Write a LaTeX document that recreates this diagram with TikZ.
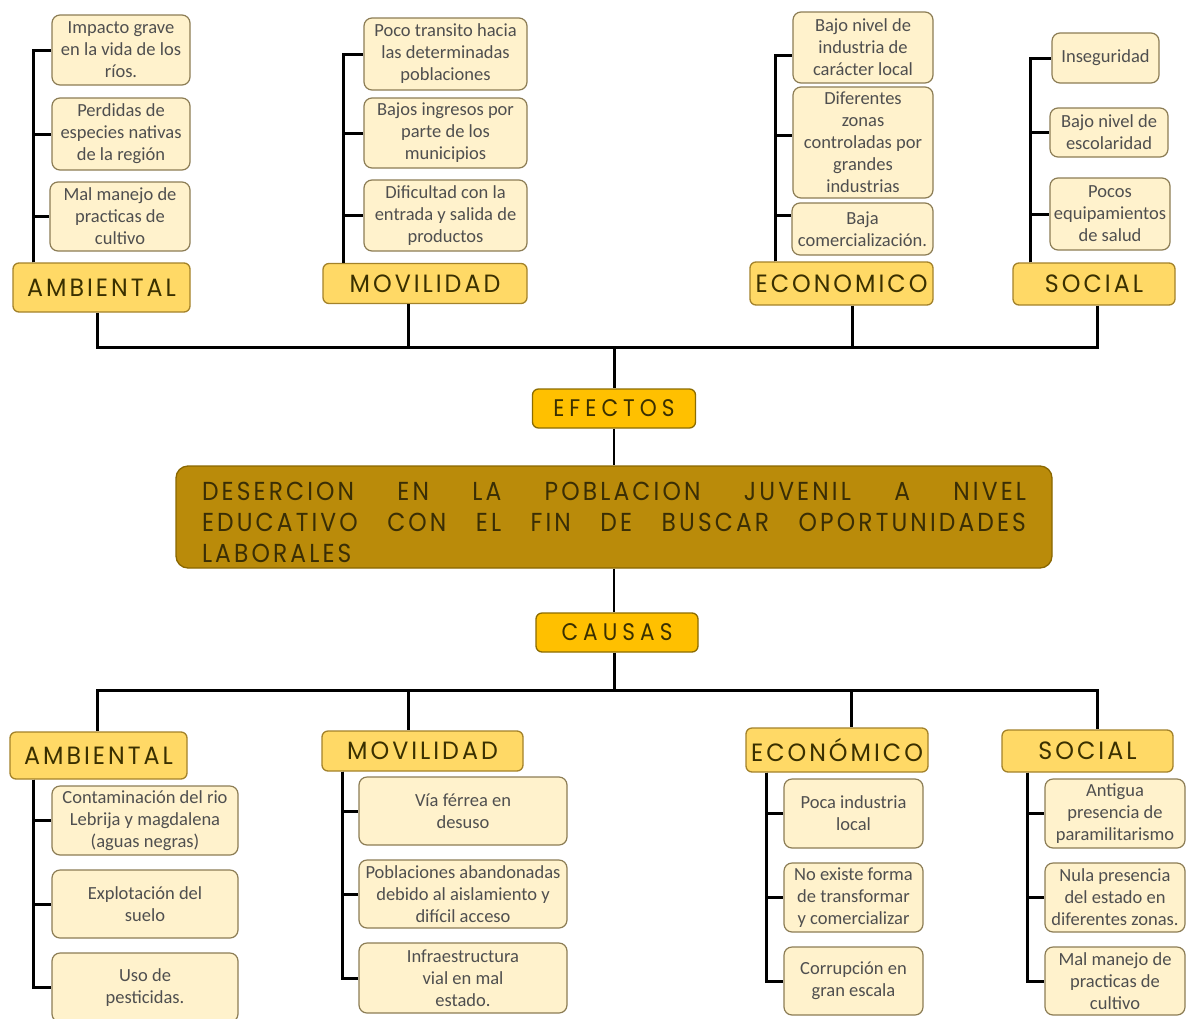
\documentclass[tikz,border=0pt]{standalone}
\usepackage{fontspec}
\setmainfont{Carlito}
\newfontfamily\hdrfont[LetterSpace=12,FakeStretch=0.95]{Poppins}
\newfontfamily\goldfont[LetterSpace=21,FakeStretch=0.9]{Poppins}
\newfontfamily\narfont[LetterSpace=12,FakeStretch=0.9]{Poppins}
\definecolor{itemfill}{HTML}{FFF2CC}
\definecolor{itemdraw}{HTML}{8C7D55}
\definecolor{itemtext}{HTML}{4F4F4F}
\definecolor{hdrfill}{HTML}{FFD966}
\definecolor{hdrdraw}{HTML}{A3822A}
\definecolor{hdrtext}{HTML}{3A3000}
\definecolor{goldfill}{HTML}{FFC000}
\definecolor{golddraw}{HTML}{8C6C00}
\definecolor{mainfill}{HTML}{BA8B0A}
\definecolor{maindraw}{HTML}{8A6700}
\definecolor{maintext}{HTML}{3A2E05}
\begin{document}
\begin{tikzpicture}[x=1pt,y=-1pt,
  item/.style={draw=itemdraw, fill=itemfill, line width=1.2pt, rounded corners=8pt, inner sep=0pt, align=center, text=itemtext, font=\fontsize{18.5}{22}\selectfont},
  hdr/.style={draw=hdrdraw, fill=hdrfill, line width=1.3pt, rounded corners=6pt, inner sep=0pt, text=hdrtext, font=\hdrfont\fontsize{25}{28}\selectfont},
  goldbox/.style={draw=golddraw, fill=goldfill, line width=1.3pt, rounded corners=6pt, inner sep=0pt, text=hdrtext, font=\goldfont\fontsize{24}{26}\selectfont},
  mainbox/.style={draw=maindraw, fill=mainfill, line width=1.3pt, rounded corners=12pt, inner sep=0pt},
  maintitle/.style={inner sep=0pt, text=maintext, align=left, font=\narfont\fontsize{26}{31}\selectfont},
  tree/.style={line width=3pt, draw=black}]
\useasboundingbox (0,0) rectangle (1186,1018);
\fill[white] (0,0) rectangle (1186,1018);

% ---------- top headers ----------
\node[hdr, minimum width=177, minimum height=49] (ambT) at (101.5,287.5) {AMBIENTAL};
\node[hdr, minimum width=204, minimum height=40] (movT) at (425,283.5) {MOVILIDAD};
\node[hdr, minimum width=183, minimum height=43] (ecoT) at (841.5,283.5) {ECONOMICO};
\node[hdr, minimum width=162, minimum height=42] (socT) at (1094,284) {SOCIAL};

% ---------- top items ----------
\node[item, minimum width=138, minimum height=70] (a1) at (121,50) {Impacto grave\\en la vida de los\\ríos.};
\node[item, minimum width=138, minimum height=72] (a2) at (121,134) {Perdidas de\\especies nativas\\de la región};
\node[item, minimum width=140, minimum height=69] (a3) at (120,216.5) {Mal manejo de\\practicas de\\cultivo};

\node[item, minimum width=163, minimum height=72] (m1) at (445.5,54) {Poco transito hacia\\las determinadas\\poblaciones};
\node[item, minimum width=163, minimum height=70] (m2) at (445.5,133) {Bajos ingresos por\\parte de los\\municipios};
\node[item, minimum width=163, minimum height=71] (m3) at (445.5,215.5) {Dificultad con la\\entrada y salida de\\productos};

\node[item, minimum width=140, minimum height=71] (e1) at (863,47.5) {Bajo nivel de\\industria de\\carácter local};
\node[item, minimum width=140, minimum height=111] (e2) at (863,142.5) {Diferentes\\zonas\\controladas por\\grandes\\industrias};
\node[item, minimum width=141, minimum height=52] (e3) at (862.5,229) {Baja\\comercialización.};

\node[item, minimum width=107, minimum height=50] (s1) at (1105.5,58) {Inseguridad};
\node[item, minimum width=118, minimum height=49] (s2) at (1109,132.5) {Bajo nivel de\\escolaridad};
\node[item, minimum width=120, minimum height=72] (s3) at (1110,214) {Pocos\\equipamientos\\de salud};

% ---------- center ----------
\node[goldbox, minimum width=163, minimum height=39] (efectos) at (614,408.5) {EFECTOS};
\node[mainbox, minimum width=876, minimum height=102] (main) at (614,517) {};
\node[maintitle] (maintxt) at (614,522)
  {\hbox to 824pt{DESERCION\hfill EN\hfill LA\hfill POBLACION\hfill JUVENIL\hfill A\hfill NIVEL}\\
   \hbox to 824pt{EDUCATIVO\hfill CON\hfill EL\hfill FIN\hfill DE\hfill BUSCAR\hfill OPORTUNIDADES}\\
   \hbox to 824pt{LABORALES\hfill}};
\node[goldbox, minimum width=162, minimum height=39] (causas) at (617,632.5) {CAUSAS};

% ---------- bottom headers ----------
\node[hdr, minimum width=177, minimum height=47] (ambB) at (98.5,755.5) {AMBIENTAL};
\node[hdr, minimum width=201, minimum height=40] (movB) at (422.5,751) {MOVILIDAD};
\node[hdr, minimum width=182, minimum height=44] (ecoB) at (837,750) {ECONÓMICO};
\node[hdr, minimum width=171, minimum height=42] (socB) at (1087.5,751) {SOCIAL};

% ---------- bottom items ----------
\node[item, minimum width=186, minimum height=69] (ba1) at (145,820.5) {Contaminación del rio\\Lebrija y magdalena\\(aguas negras)};
\node[item, minimum width=186, minimum height=68] (ba2) at (145,904) {Explotación del\\suelo};
\node[item, minimum width=186, minimum height=69] (ba3) at (145,987.5) {Uso de\\pesticidas.};

\node[item, minimum width=208, minimum height=68] (bm1) at (463,811) {Vía férrea en\\desuso};
\node[item, minimum width=208, minimum height=68] (bm2) at (463,894) {Poblaciones abandonadas\\debido al aislamiento y\\difícil acceso};
\node[item, minimum width=208, minimum height=70] (bm3) at (463,978) {Infraestructura\\vial en mal\\estado.};

\node[item, minimum width=139, minimum height=69] (be1) at (853.5,813.5) {Poca industria\\local};
\node[item, minimum width=139, minimum height=69] (be2) at (853.5,897.5) {No existe forma\\de transformar\\y comercializar};
\node[item, minimum width=139, minimum height=68] (be3) at (853.5,981) {Corrupción en\\gran escala};

\node[item, minimum width=140, minimum height=69] (bs1) at (1115,813.5) {Antigua\\presencia de\\paramilitarismo};
\node[item, minimum width=140, minimum height=69] (bs2) at (1115,897.5) {Nula presencia\\del estado en\\diferentes zonas.};
\node[item, minimum width=140, minimum height=68] (bs3) at (1115,981) {Mal manejo de\\practicas de\\cultivo};

% ---------- connectors: top items ----------
\foreach \i in {a1,a2,a3} \draw[tree] ([xshift=-68.5]ambT.north) |- (\i.west);
\foreach \i in {m1,m2,m3} \draw[tree] ([xshift=-82]movT.north) |- (\i.west);
\draw[tree] ([xshift=-66.5]ecoT.north) |- ([yshift=-7.5]e1.west);
\draw[tree] ([xshift=-66.5]ecoT.north) |- ([yshift=7.5]e2.west);
\draw[tree] ([xshift=-66.5]ecoT.north) |- ([yshift=14]e3.west);
\foreach \i in {s1,s2,s3} \draw[tree] ([xshift=-64]socT.north) |- (\i.west);

% ---------- top bus ----------
\coordinate (busT) at (614,347);
\draw[tree] ([xshift=-4.5]ambT.south) |- (busT);
\draw[tree] ([xshift=-17]movT.south) |- (busT);
\draw[tree] ([xshift=10.5]ecoT.south) |- (busT);
\draw[tree] ([xshift=3]socT.south) |- (busT);
\draw[tree] (busT) -- (efectos.north);
\draw[line width=2pt] (efectos.south) -- (main.north);
\draw[line width=2pt] (main.south) -- (main.south |- causas.north);

% ---------- bottom bus ----------
\coordinate (busB) at (614,690);
\draw[tree] (causas.south -| busB) -- (busB);
\draw[tree] (busB) -| ([xshift=-1.5]ambB.north);
\draw[tree] (busB) -| ([xshift=-14.5]movB.north);
\draw[tree] (busB) -| ([xshift=14]ecoB.north);
\draw[tree] (busB) -| ([xshift=9.5]socB.north);

% ---------- connectors: bottom items ----------
\foreach \i in {ba1,ba2,ba3} \draw[tree] ([xshift=-65.5]ambB.south) |- (\i.west);
\foreach \i in {bm1,bm2,bm3} \draw[tree] ([xshift=-80.5]movB.south) |- (\i.west);
\foreach \i in {be1,be2,be3} \draw[tree] ([xshift=-71]ecoB.south) |- (\i.west);
\foreach \i in {bs1,bs2,bs3} \draw[tree] ([xshift=-60.5]socB.south) |- (\i.west);
\end{tikzpicture}
\end{document}
